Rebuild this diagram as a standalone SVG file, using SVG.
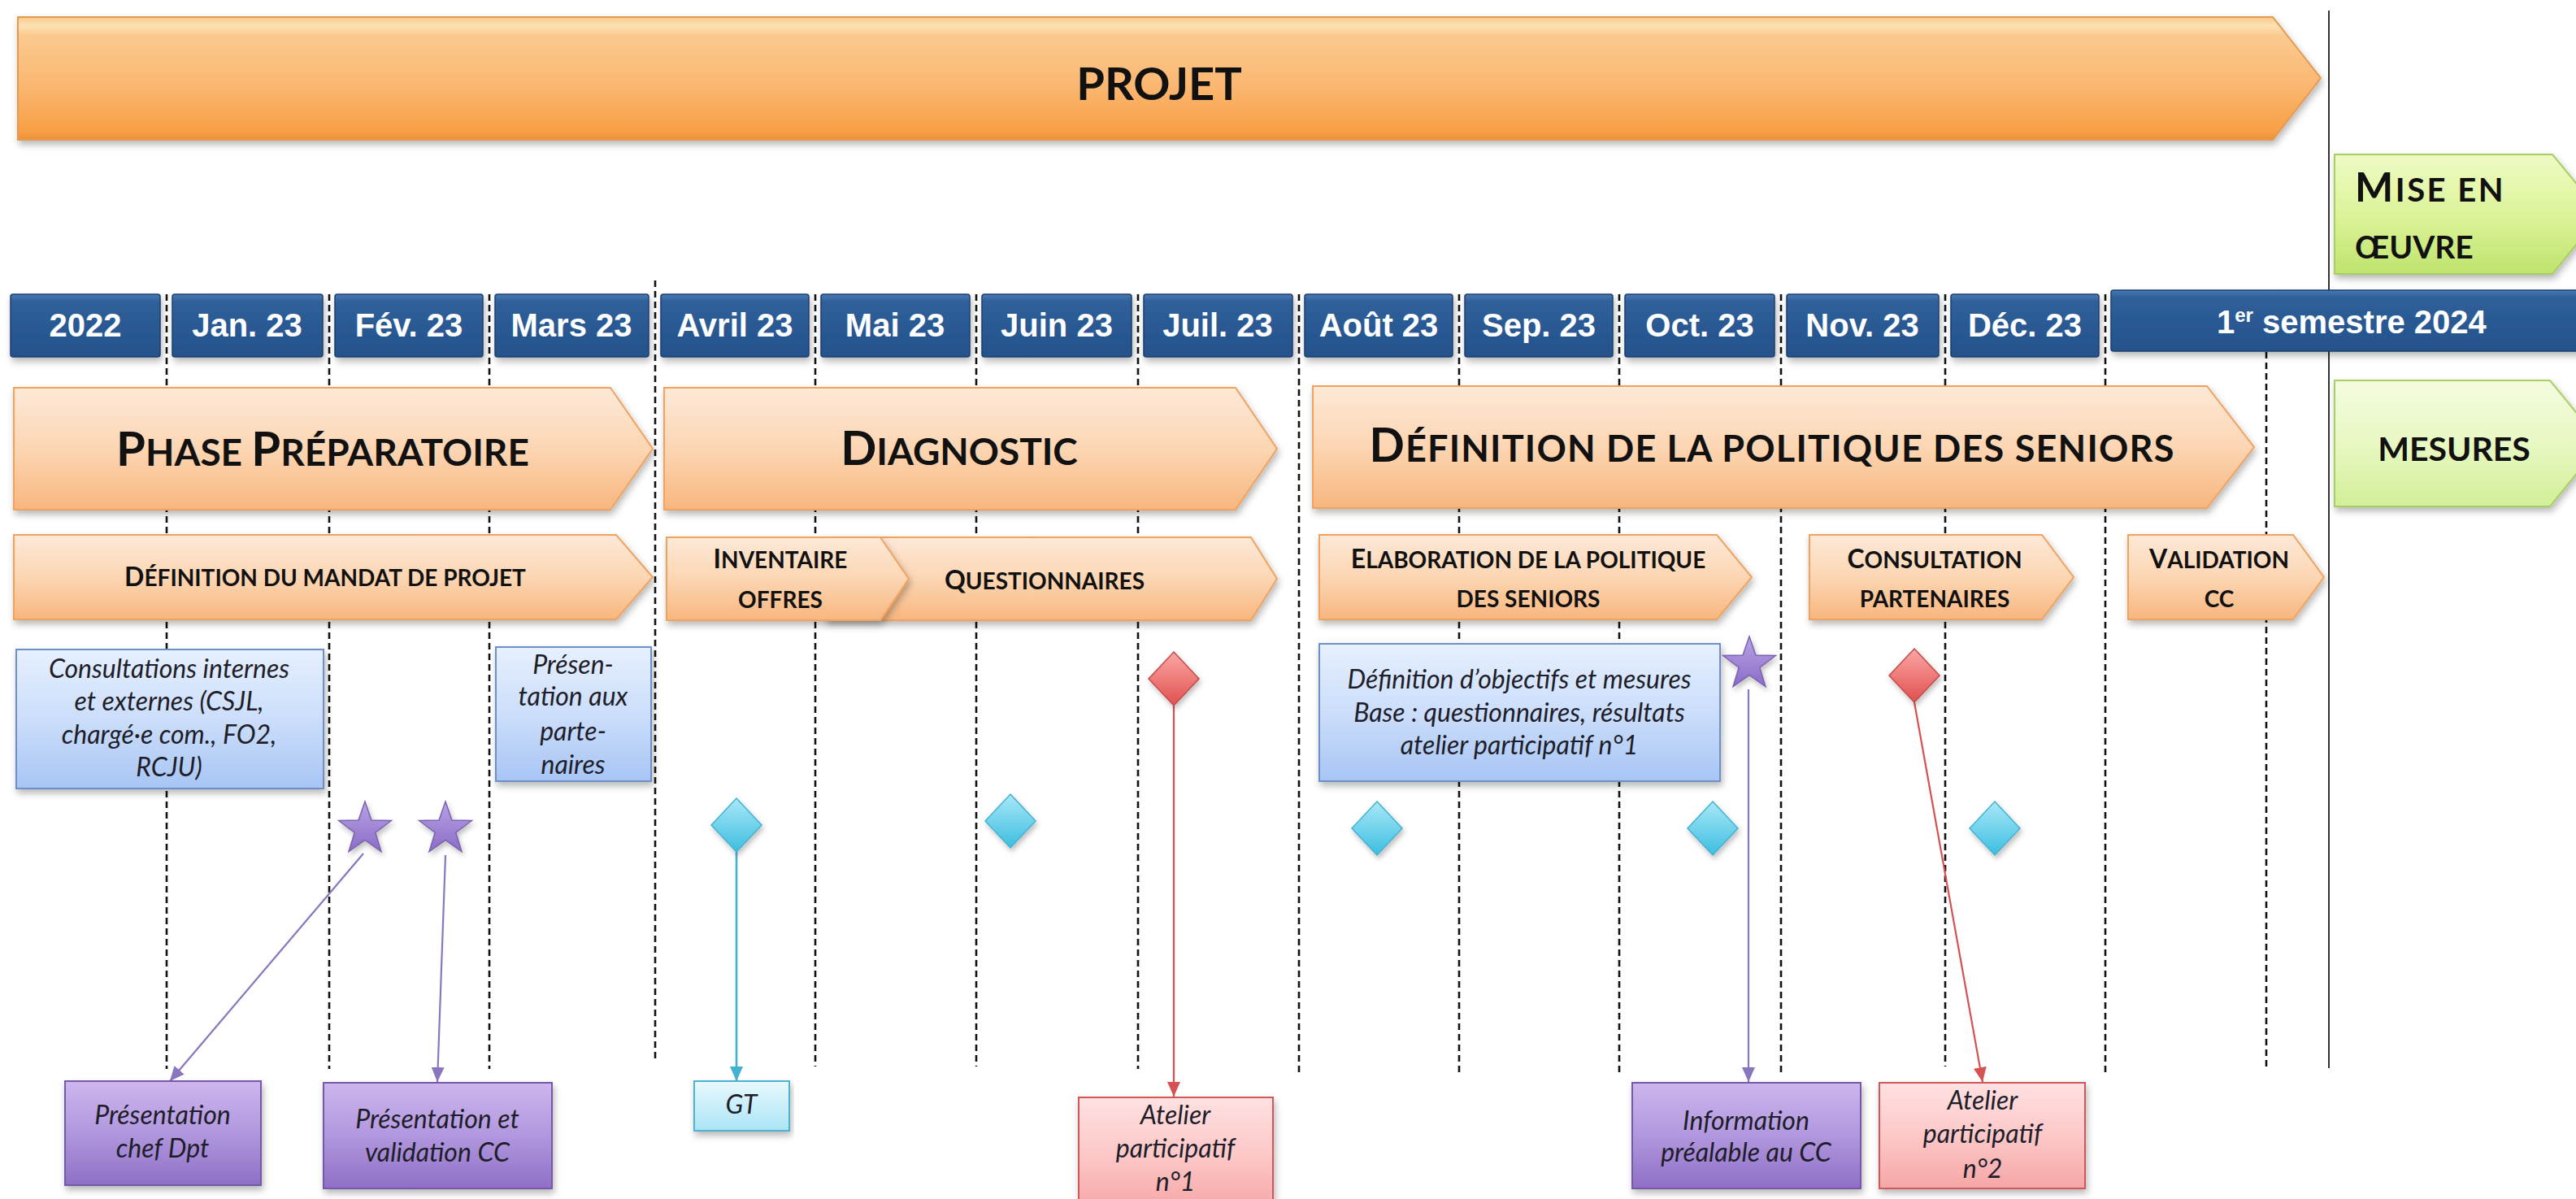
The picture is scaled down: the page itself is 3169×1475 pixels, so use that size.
<svg xmlns="http://www.w3.org/2000/svg" xmlns:xlink="http://www.w3.org/1999/xlink" width="3169" height="1475" viewBox="0 0 3169 1475">
<defs>
<style>
.ph{font-family:Lato,"Open Sans","Liberation Sans",sans-serif;font-weight:700;fill:#111;text-anchor:middle}
.mo{font-family:"Liberation Sans",Arial,sans-serif;font-weight:700;fill:#fff;font-size:40px;text-anchor:middle}
.bx{font-family:Lato,"Open Sans","Liberation Sans",sans-serif;font-style:italic;font-size:32px;fill:#1e1e2a;text-anchor:middle}
.st{text-anchor:start}
.dash{stroke:#111;stroke-width:2.6;stroke-dasharray:8 5;fill:none}
.phase{fill:url(#gPhase);stroke:#F0A25E;stroke-width:2;filter:url(#sh)}
.sub{fill:url(#gPhase);stroke:#F0A25E;stroke-width:2;filter:url(#sh)}
.month{fill:url(#gMonth);stroke:#1d3f6e;stroke-width:1.5;filter:url(#sh)}
.blue{fill:url(#gBlue);stroke:#6E8FC9;stroke-width:2;filter:url(#sh)}
.purple{fill:url(#gPurple);stroke:#7559A8;stroke-width:2;filter:url(#sh)}
.pink{fill:url(#gPink);stroke:#D0585A;stroke-width:2;filter:url(#sh)}
.cyanbox{fill:url(#gCyanBox);stroke:#4DB3D0;stroke-width:2;filter:url(#sh)}
.star{fill:url(#gStar);stroke:#7A62B0;stroke-width:1.5;filter:url(#sh2)}
.dcy{fill:url(#gDCy);stroke:#43B2D2;stroke-width:1.5;filter:url(#sh2)}
.dred{fill:url(#gDRed);stroke:#C64848;stroke-width:1.5;filter:url(#sh2)}
.green{stroke:#A9CF62;stroke-width:2;filter:url(#sh)}
.cp{stroke:#8A76BF;stroke-width:2.2;fill:none}
.cc{stroke:#45B1D0;stroke-width:2.6;fill:none}
.cr{stroke:#D65250;stroke-width:2.2;fill:none}
</style>
<filter id="sh" x="-5%" y="-10%" width="110%" height="135%"><feDropShadow dx="2" dy="5" stdDeviation="4" flood-color="#000" flood-opacity="0.28"/></filter>
<filter id="sh2" x="-40%" y="-40%" width="180%" height="190%"><feDropShadow dx="2" dy="4" stdDeviation="3" flood-color="#000" flood-opacity="0.25"/></filter>
<linearGradient id="gProjet" x1="0" y1="0" x2="0" y2="1">
<stop offset="0" stop-color="#F8C98A"/><stop offset="0.07" stop-color="#FDE2B4"/><stop offset="0.15" stop-color="#FBC98E"/><stop offset="0.55" stop-color="#FBB872"/><stop offset="0.92" stop-color="#F8A047"/><stop offset="1" stop-color="#EE9038"/>
</linearGradient>
<linearGradient id="gPhase" x1="0" y1="0" x2="0" y2="1">
<stop offset="0" stop-color="#FDE9D8"/><stop offset="0.5" stop-color="#FCD6B3"/><stop offset="1" stop-color="#F8B67E"/>
</linearGradient>
<linearGradient id="gMonth" x1="0" y1="0" x2="0" y2="1">
<stop offset="0" stop-color="#4A79B3"/><stop offset="0.12" stop-color="#2F5F9A"/><stop offset="1" stop-color="#24528B"/>
</linearGradient>
<linearGradient id="gGreen1" x1="0" y1="0" x2="0" y2="1">
<stop offset="0" stop-color="#EEFBC4"/><stop offset="0.5" stop-color="#DDF49A"/><stop offset="1" stop-color="#BFE36E"/>
</linearGradient>
<linearGradient id="gGreen2" x1="0" y1="0" x2="0" y2="1">
<stop offset="0" stop-color="#F4FCE0"/><stop offset="0.5" stop-color="#E8F8C2"/><stop offset="1" stop-color="#D2EF98"/>
</linearGradient>
<linearGradient id="gBlue" x1="0" y1="0" x2="0" y2="1">
<stop offset="0" stop-color="#E6F0FE"/><stop offset="0.5" stop-color="#CCDEFB"/><stop offset="1" stop-color="#A7C5F4"/>
</linearGradient>
<linearGradient id="gPurple" x1="0" y1="0" x2="0" y2="1">
<stop offset="0" stop-color="#CDB6EE"/><stop offset="0.5" stop-color="#B197DE"/><stop offset="1" stop-color="#8F6FC6"/>
</linearGradient>
<linearGradient id="gPink" x1="0" y1="0" x2="0" y2="1">
<stop offset="0" stop-color="#FFE1E1"/><stop offset="0.5" stop-color="#FDC8C8"/><stop offset="1" stop-color="#F6A6A6"/>
</linearGradient>
<linearGradient id="gCyanBox" x1="0" y1="0" x2="0" y2="1">
<stop offset="0" stop-color="#E9F9FE"/><stop offset="1" stop-color="#ABE5F6"/>
</linearGradient>
<linearGradient id="gStar" x1="0" y1="0" x2="0" y2="1">
<stop offset="0" stop-color="#B9A3E6"/><stop offset="1" stop-color="#8A6CC6"/>
</linearGradient>
<linearGradient id="gDCy" x1="0" y1="0" x2="0" y2="1">
<stop offset="0" stop-color="#A9E8F8"/><stop offset="1" stop-color="#3DBEE0"/>
</linearGradient>
<linearGradient id="gDRed" x1="0" y1="0" x2="0" y2="1">
<stop offset="0" stop-color="#FBA7A5"/><stop offset="1" stop-color="#E0504F"/>
</linearGradient>
<path id="starShape" d="M0,-34 L7.94,-10.92 L32.34,-10.51 L12.84,4.17 L19.98,27.51 L0,13.5 L-19.98,27.51 L-12.84,4.17 L-32.34,-10.51 L-7.94,-10.92 Z"/>
<path id="diaShape" d="M0,-33 L31,0 L0,33 L-31,0 Z"/>
<marker id="ahP" markerWidth="18" markerHeight="16" refX="18" refY="8" orient="auto" markerUnits="userSpaceOnUse"><path d="M0,0 L18,8 L0,16 Z" fill="#8A76BF"/></marker>
<marker id="ahC" markerWidth="18" markerHeight="16" refX="18" refY="8" orient="auto" markerUnits="userSpaceOnUse"><path d="M0,0 L18,8 L0,16 Z" fill="#45B1D0"/></marker>
<marker id="ahR" markerWidth="18" markerHeight="16" refX="18" refY="8" orient="auto" markerUnits="userSpaceOnUse"><path d="M0,0 L18,8 L0,16 Z" fill="#D65250"/></marker>
</defs>
<rect width="3169" height="1475" fill="#fff"/>

<g id="gridlines">
<line class="dash" x1="205" y1="362" x2="205" y2="1315"/>
<line class="dash" x1="405" y1="362" x2="405" y2="1315"/>
<line class="dash" x1="602" y1="362" x2="602" y2="1315"/>
<line class="dash" x1="806" y1="345" x2="806" y2="1305"/>
<line class="dash" x1="1003" y1="362" x2="1003" y2="1312"/>
<line class="dash" x1="1201" y1="362" x2="1201" y2="1312"/>
<line class="dash" x1="1400" y1="362" x2="1400" y2="1315"/>
<line class="dash" x1="1598" y1="362" x2="1598" y2="1319"/>
<line class="dash" x1="1795" y1="362" x2="1795" y2="1319"/>
<line class="dash" x1="1992" y1="362" x2="1992" y2="1319"/>
<line class="dash" x1="2191" y1="362" x2="2191" y2="1319"/>
<line class="dash" x1="2393" y1="362" x2="2393" y2="1312"/>
<line class="dash" x1="2590" y1="362" x2="2590" y2="1319"/>
<line class="dash" x1="2788" y1="433" x2="2788" y2="1312"/>
<line x1="2865" y1="13" x2="2865" y2="1314" stroke="#333" stroke-width="2"/>
</g>

<g id="projet">
<polygon points="22,21 2796,21 2855,96 2796,172 22,172" fill="url(#gProjet)" stroke="#E49A4F" stroke-width="2" filter="url(#sh)"/>
<text class="ph" x="1426" y="123" font-size="56">PROJET</text>
</g>

<g id="mise-en-oeuvre">
<polygon class="green" points="2872,190 3140,190 3200,263 3140,337 2872,337" fill="url(#gGreen1)"/>
<text class="ph st" x="2897" y="248" font-size="50" letter-spacing="2.5">M<tspan font-size="40">ISE EN</tspan></text>
<text class="ph st" x="2897" y="318" font-size="39">ŒUVRE</text>
</g>

<g id="months">
<g id="m-2022"><rect class="month" x="13" y="362" width="184" height="77" rx="3"/><text class="mo" x="105" y="414">2022</text></g>
<g id="m-jan"><rect class="month" x="212" y="362" width="185" height="77" rx="3"/><text class="mo" x="304" y="414">Jan. 23</text></g>
<g id="m-fev"><rect class="month" x="412" y="362" width="182" height="77" rx="3"/><text class="mo" x="503" y="414">Fév. 23</text></g>
<g id="m-mars"><rect class="month" x="609" y="362" width="189" height="77" rx="3"/><text class="mo" x="703" y="414">Mars 23</text></g>
<g id="m-avril"><rect class="month" x="813" y="362" width="182" height="77" rx="3"/><text class="mo" x="904" y="414">Avril 23</text></g>
<g id="m-mai"><rect class="month" x="1010" y="362" width="183" height="77" rx="3"/><text class="mo" x="1101" y="414">Mai 23</text></g>
<g id="m-juin"><rect class="month" x="1208" y="362" width="184" height="77" rx="3"/><text class="mo" x="1300" y="414">Juin 23</text></g>
<g id="m-juil"><rect class="month" x="1407" y="362" width="183" height="77" rx="3"/><text class="mo" x="1498" y="414">Juil. 23</text></g>
<g id="m-aout"><rect class="month" x="1605" y="362" width="182" height="77" rx="3"/><text class="mo" x="1696" y="414">Août 23</text></g>
<g id="m-sep"><rect class="month" x="1802" y="362" width="182" height="77" rx="3"/><text class="mo" x="1893" y="414">Sep. 23</text></g>
<g id="m-oct"><rect class="month" x="1999" y="362" width="184" height="77" rx="3"/><text class="mo" x="2091" y="414">Oct. 23</text></g>
<g id="m-nov"><rect class="month" x="2198" y="362" width="187" height="77" rx="3"/><text class="mo" x="2291" y="414">Nov. 23</text></g>
<g id="m-dec"><rect class="month" x="2400" y="362" width="182" height="77" rx="3"/><text class="mo" x="2491" y="414">Déc. 23</text></g>
<g id="m-2024"><rect class="month" x="2597" y="357" width="590" height="75" rx="3"/><text class="mo st" x="2727" y="410">1<tspan font-size="24" dy="-14">er</tspan><tspan dy="14"> semestre 2024</tspan></text></g>
</g>

<g id="phase-preparatoire">
<polygon class="phase" points="17,477 751,477 803,552 751,627 17,627"/>
<text class="ph" x="397" y="573" font-size="58">P<tspan font-size="46">HASE </tspan>P<tspan font-size="46">RÉPARATOIRE</tspan></text>
</g>
<g id="phase-diagnostic">
<polygon class="phase" points="817,477 1520,477 1571,552 1520,627 817,627"/>
<text class="ph" x="1180" y="572" font-size="58">D<tspan font-size="46">IAGNOSTIC</tspan></text>
</g>
<g id="phase-definition">
<polygon class="phase" points="1615,475 2715,475 2773,550 2715,625 1615,625"/>
<text class="ph" x="2180" y="568" font-size="57" letter-spacing="1.2">D<tspan font-size="45">ÉFINITION DE LA POLITIQUE DES SENIORS</tspan></text>
</g>
<g id="mesures">
<polygon class="green" points="2872,468 3137,468 3200,545 3137,623 2872,623" fill="url(#gGreen2)"/>
<text class="ph" x="3019" y="567" font-size="41">MESURES</text>
</g>

<g id="sub-mandat">
<polygon class="sub" points="17,658 758,658 803,710 758,762 17,762"/>
<text class="ph" x="400" y="721" font-size="32">D<tspan font-size="28">ÉFINITION DU MANDAT DE PROJET</tspan></text>
</g>
<g id="sub-questionnaires">
<polygon class="sub" points="1016,661 1539,661 1571,712 1539,763 1016,763"/>
<text class="ph" x="1285" y="725" font-size="32">Q<tspan font-size="28">UESTIONNAIRES</tspan></text>
</g>
<g id="sub-inventaire">
<polygon class="sub" points="820,661 1083,661 1118,712 1083,763 820,763"/>
<text class="ph" x="960" y="699" font-size="32">I<tspan font-size="28">NVENTAIRE</tspan></text>
<text class="ph" x="960" y="748" font-size="28">OFFRES</text>
</g>
<g id="sub-elaboration">
<polygon class="sub" points="1623,658 2112,658 2155,710 2112,762 1623,762"/>
<text class="ph" x="1880" y="699" font-size="32">E<tspan font-size="28">LABORATION DE LA POLITIQUE</tspan></text>
<text class="ph" x="1880" y="747" font-size="28">DES SENIORS</text>
</g>
<g id="sub-consultation">
<polygon class="sub" points="2226,658 2512,658 2551,710 2512,762 2226,762"/>
<text class="ph" x="2380" y="699" font-size="32">C<tspan font-size="28">ONSULTATION</tspan></text>
<text class="ph" x="2380" y="747" font-size="28">PARTENAIRES</text>
</g>
<g id="sub-validation">
<polygon class="sub" points="2618,658 2821,658 2859,710 2821,762 2618,762"/>
<text class="ph" x="2730" y="699" font-size="32">V<tspan font-size="28">ALIDATION</tspan></text>
<text class="ph" x="2730" y="747" font-size="28">CC</text>
</g>

<g id="box-consultations">
<rect class="blue" x="20" y="799" width="378" height="171"/>
<text class="bx" x="208" y="834">Consultations internes</text>
<text class="bx" x="208" y="874">et externes (CSJL,</text>
<text class="bx" x="208" y="915">chargé·e com., FO2,</text>
<text class="bx" x="208" y="955">RCJU)</text>
</g>
<g id="box-presentation-partenaires">
<rect class="blue" x="610" y="796" width="191" height="165"/>
<text class="bx" x="705" y="829">Présen-</text>
<text class="bx" x="705" y="868">tation aux</text>
<text class="bx" x="705" y="911">parte-</text>
<text class="bx" x="705" y="952">naires</text>
</g>
<g id="box-definition-objectifs">
<rect class="blue" x="1623" y="792" width="493" height="169"/>
<text class="bx" x="1869" y="847">Définition d’objectifs et mesures</text>
<text class="bx" x="1869" y="888">Base : questionnaires, résultats</text>
<text class="bx" x="1869" y="928">atelier participatif n°1</text>
</g>

<g id="connectors">
<line class="cp" x1="447" y1="1050" x2="209" y2="1330" marker-end="url(#ahP)"/>
<line class="cp" x1="548" y1="1052" x2="538" y2="1331" marker-end="url(#ahP)"/>
<line class="cc" x1="906" y1="1048" x2="906" y2="1330" marker-end="url(#ahC)"/>
<line class="cr" x1="1444" y1="868" x2="1444" y2="1349" marker-end="url(#ahR)"/>
<line class="cp" x1="2151" y1="848" x2="2151" y2="1331" marker-end="url(#ahP)"/>
<line class="cr" x1="2355" y1="864" x2="2439" y2="1331" marker-end="url(#ahR)"/>
</g>

<g id="star-1"><use href="#starShape" class="star" transform="translate(449,1020)"/></g>
<g id="star-2"><use href="#starShape" class="star" transform="translate(548,1020)"/></g>
<g id="star-3"><use href="#starShape" class="star" transform="translate(2152,817)"/></g>
<g id="diamond-cyan-1"><use href="#diaShape" class="dcy" transform="translate(906,1015)"/></g>
<g id="diamond-cyan-2"><use href="#diaShape" class="dcy" transform="translate(1243,1010)"/></g>
<g id="diamond-cyan-3"><use href="#diaShape" class="dcy" transform="translate(1694,1019)"/></g>
<g id="diamond-cyan-4"><use href="#diaShape" class="dcy" transform="translate(2107,1019)"/></g>
<g id="diamond-cyan-5"><use href="#diaShape" class="dcy" transform="translate(2454,1019)"/></g>
<g id="diamond-red-1"><use href="#diaShape" class="dred" transform="translate(1444,835)"/></g>
<g id="diamond-red-2"><use href="#diaShape" class="dred" transform="translate(2355,831)"/></g>

<g id="box-chef-dpt">
<rect class="purple" x="80" y="1330" width="241" height="128"/>
<text class="bx" x="200" y="1383">Présentation</text>
<text class="bx" x="200" y="1424">chef Dpt</text>
</g>
<g id="box-validation-cc">
<rect class="purple" x="398" y="1332" width="281" height="130"/>
<text class="bx" x="538" y="1388">Présentation et</text>
<text class="bx" x="538" y="1429">validation CC</text>
</g>
<g id="box-gt">
<rect class="cyanbox" x="854" y="1330" width="117" height="61"/>
<text class="bx" x="912" y="1370" font-family="'Liberation Sans',Arial,sans-serif" font-size="27">GT</text>
</g>
<g id="box-atelier-1">
<rect class="pink" x="1327" y="1350" width="239" height="140"/>
<text class="bx" x="1446" y="1383">Atelier</text>
<text class="bx" x="1446" y="1424">participatif</text>
<text class="bx" x="1446" y="1465">n°1</text>
</g>
<g id="box-information-cc">
<rect class="purple" x="2008" y="1332" width="281" height="130"/>
<text class="bx" x="2148" y="1390">Information</text>
<text class="bx" x="2148" y="1429">préalable au CC</text>
</g>
<g id="box-atelier-2">
<rect class="pink" x="2312" y="1332" width="253" height="130"/>
<text class="bx" x="2439" y="1365">Atelier</text>
<text class="bx" x="2439" y="1406">participatif</text>
<text class="bx" x="2439" y="1449">n°2</text>
</g>
</svg>
